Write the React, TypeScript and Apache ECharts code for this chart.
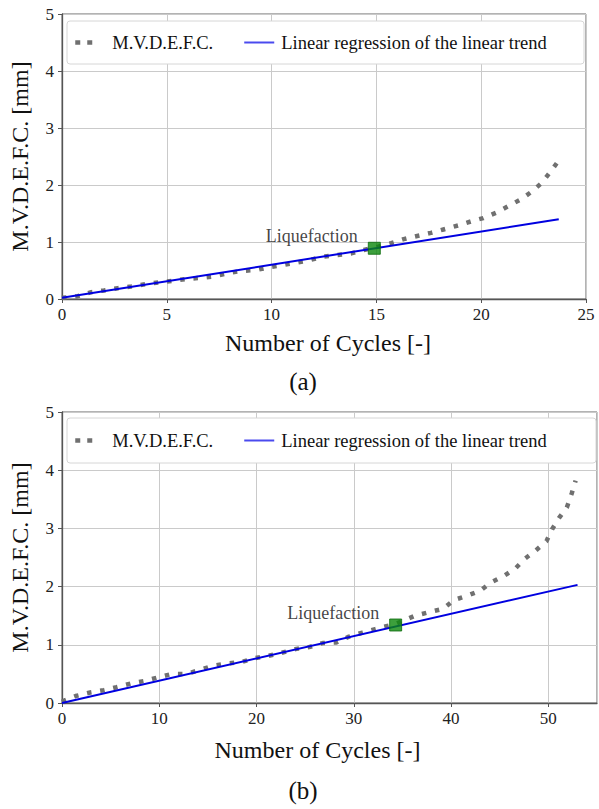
import React, { useEffect, useRef } from "react";
import * as echarts from "echarts";

// ---- Data ----
const seriesNames = ["M.V.D.E.F.C.", "Linear regression of the linear trend"];

// Panel (a)
const cyclesA = [0, 0.75, 1.4, 2.0, 2.66, 3.3, 4.0, 4.6, 5.3, 5.9, 6.6, 7.3, 7.9, 8.5, 9.3, 9.9, 10.6, 11.8, 12.4, 13.1, 13.8, 14.4, 14.9, 15.7, 16.3, 17.0, 17.6, 18.2, 18.9, 19.5, 20.1, 20.75, 21.3, 21.9, 22.4, 22.9, 23.3, 23.7];
const mvdefcA = [0.02, 0.05, 0.12, 0.15, 0.19, 0.22, 0.26, 0.29, 0.32, 0.35, 0.37, 0.40, 0.45, 0.49, 0.51, 0.56, 0.60, 0.68, 0.74, 0.77, 0.80, 0.86, 0.90, 0.98, 1.05, 1.11, 1.16, 1.22, 1.29, 1.36, 1.42, 1.52, 1.63, 1.75, 1.88, 2.04, 2.23, 2.43];
const trendCyclesA = [0, 23.7];
const trendValuesA = [0.02, 1.40];
const liquefactionA = [14.9, 0.89];

// Panel (b)
const cyclesB = [0, 0.35, 1.4, 2.9, 4.3, 5.6, 7.2, 8.5, 9.9, 11.3, 12.8, 14.2, 15.5, 17.0, 18.4, 19.8, 21.2, 22.5, 24.1, 25.4, 26.8, 28.2, 29.5, 30.9, 32.2, 34.3, 36.3, 37.7, 39.2, 40.3, 41.6, 43.0, 44.1, 45.4, 46.6, 47.6, 48.7, 49.8, 50.4, 51.1, 51.9, 52.4, 52.8];
const mvdefcB = [0.02, 0.05, 0.12, 0.18, 0.22, 0.27, 0.34, 0.38, 0.44, 0.50, 0.50, 0.57, 0.64, 0.68, 0.70, 0.77, 0.81, 0.86, 0.93, 0.96, 1.03, 1.04, 1.14, 1.21, 1.27, 1.36, 1.50, 1.56, 1.62, 1.77, 1.84, 1.93, 2.07, 2.18, 2.31, 2.48, 2.62, 2.78, 2.99, 3.18, 3.36, 3.60, 3.82];
const trendCyclesB = [0, 53];
const trendValuesB = [0, 2.03];
const liquefactionB = [34.3, 1.34];

const xMaxA = 25;
const xIntervalA = 5;
const xMaxB = 55;
const xIntervalB = 10;
const yMax = 5;
const yInterval = 1;

const xTitle = "Number of Cycles [-]";
const yTitle = "M.V.D.E.F.C. [mm]";
const liqLabel = "Liquefaction";
const panelLabels = ["(a)", "(b)"];

const FONT = "'Liberation Serif', 'Times New Roman', serif";
const GRAY = "#707070";
const BLUE = "#0000e0";
const GREEN = "#0b870b";

const zip = (xs: number[], ys: number[]) => xs.map((x, i) => [x, ys[i]]);

export default function App() {
  const ref = useRef<HTMLDivElement>(null);

  useEffect(() => {
    if (!ref.current) return;
    const chart = echarts.init(ref.current, undefined, { renderer: "svg" });

    const grids = [
      { left: 61, top: 14, width: 525, height: 285 },
      { left: 60, top: 412, width: 537, height: 291 },
    ];

    const xAxisBase = (max: number, interval: number, gap: number, pad: number[]) => ({
      type: "value",
      min: 0,
      max,
      interval,
      name: xTitle,
      nameLocation: "middle",
      nameGap: gap,
      nameTextStyle: { fontFamily: FONT, fontSize: 24, color: "#111", padding: pad },
      axisLine: { show: true, lineStyle: { color: "#555", width: 1.3 } },
      axisTick: { show: true, inside: false, length: 4, lineStyle: { color: "#555" } },
      axisLabel: { fontFamily: FONT, fontSize: 17, color: "#222", margin: 7, showMaxLabel: max === xMaxA },
      splitLine: { show: true, lineStyle: { color: "#cacaca", width: 1 } },
    });

    const yAxisBase = () => ({
      type: "value",
      min: 0,
      max: yMax,
      interval: yInterval,
      name: yTitle,
      nameLocation: "middle",
      nameGap: 30,
      nameTextStyle: { fontFamily: FONT, fontSize: 24, color: "#111" },
      axisLine: { show: true, lineStyle: { color: "#555", width: 1.3 } },
      axisTick: { show: true, inside: false, length: 4, lineStyle: { color: "#555" } },
      axisLabel: { fontFamily: FONT, fontSize: 17, color: "#222", margin: 8 },
      splitLine: { show: true, lineStyle: { color: "#cacaca", width: 1 } },
    });

    const dottedSeries = (idx: number, data: number[][]) => ({
      name: seriesNames[0],
      type: "line",
      xAxisIndex: idx,
      yAxisIndex: idx,
      data,
      symbol: "none",
      z: 2,
      lineStyle: { color: GRAY, width: 4.5, type: [4.5, 8.8], cap: "butt" },
      itemStyle: { color: GRAY },
    });

    const trendSeries = (idx: number, data: number[][]) => ({
      name: seriesNames[1],
      type: "line",
      xAxisIndex: idx,
      yAxisIndex: idx,
      data,
      symbol: "none",
      z: 3,
      lineStyle: { color: BLUE, width: 2 },
      itemStyle: { color: BLUE },
    });

    const liqSeries = (idx: number, point: number[]) => ({
      name: liqLabel,
      type: "scatter",
      xAxisIndex: idx,
      yAxisIndex: idx,
      data: [point],
      symbol: "rect",
      symbolSize: 12,
      z: 5,
      itemStyle: { color: GREEN, borderColor: "#0a6a0a", borderWidth: 1 },
      label: {
        show: true,
        formatter: liqLabel,
        position: "left",
        distance: 4,
        offset: [-6, -12],
        fontFamily: FONT,
        fontSize: 18,
        color: "#111",
      },
    });

    const hiddenSymbol = { color: "rgba(0,0,0,0)", opacity: 0, borderWidth: 0 };

    const legendBase = (top: number) => ({
      left: 73,
      top,
      padding: 0,
      itemWidth: 30,
      itemHeight: 12,
      itemGap: 30,
      z: 10,
      textStyle: { fontFamily: FONT, fontSize: 18.5, color: "#111", padding: [0, 0, 0, 2] },
      data: [
        { name: seriesNames[0], itemStyle: hiddenSymbol, lineStyle: { type: [5, 7, 5, 30], width: 4.5, cap: "butt", color: GRAY } },
        { name: seriesNames[1], itemStyle: hiddenSymbol, lineStyle: { color: "#4a4aee", width: 2 } },
      ],
    });

    const option = {
      animation: false,
      backgroundColor: "#ffffff",
      grid: grids.map((g) => ({ ...g, show: true, borderColor: "#666", borderWidth: 1, backgroundColor: "transparent" })),
      xAxis: [
        { ...xAxisBase(xMaxA, xIntervalA, 32, [0, 0, 0, 8]), gridIndex: 0 },
        { ...xAxisBase(xMaxB, xIntervalB, 35, [0, 24, 0, 0]), gridIndex: 1 },
      ],
      yAxis: [
        { ...yAxisBase(), gridIndex: 0 },
        { ...yAxisBase(), gridIndex: 1 },
      ],
      legend: [legendBase(33), legendBase(431)],
      graphic: [
        {
          type: "rect",
          z: 8,
          shape: { x: 67, y: 21, width: 517, height: 43, r: 3 },
          style: { fill: "#ffffff", stroke: "#d6d6d6", lineWidth: 1 },
        },
        {
          type: "rect",
          z: 8,
          shape: { x: 67, y: 418, width: 529, height: 45, r: 3 },
          style: { fill: "#ffffff", stroke: "#d6d6d6", lineWidth: 1 },
        },
        {
          type: "text",
          z: 10,
          x: 303,
          y: 381,
          style: { text: panelLabels[0], font: `25px ${FONT}`, fill: "#111", textAlign: "center", textVerticalAlign: "middle" },
        },
        {
          type: "text",
          z: 10,
          x: 303,
          y: 790,
          style: { text: panelLabels[1], font: `25px ${FONT}`, fill: "#111", textAlign: "center", textVerticalAlign: "middle" },
        },
      ],
      series: [
        dottedSeries(0, zip(cyclesA, mvdefcA)),
        trendSeries(0, zip(trendCyclesA, trendValuesA)),
        liqSeries(0, liquefactionA),
        dottedSeries(1, zip(cyclesB, mvdefcB)),
        trendSeries(1, zip(trendCyclesB, trendValuesB)),
        liqSeries(1, liquefactionB),
      ],
    };

    chart.setOption(option as any);
    return () => chart.dispose();
  }, []);

  return (
    <div
      ref={ref}
      style={{ position: "fixed", left: 0, top: 0, width: 599, height: 809, background: "#fff" }}
    />
  );
}
